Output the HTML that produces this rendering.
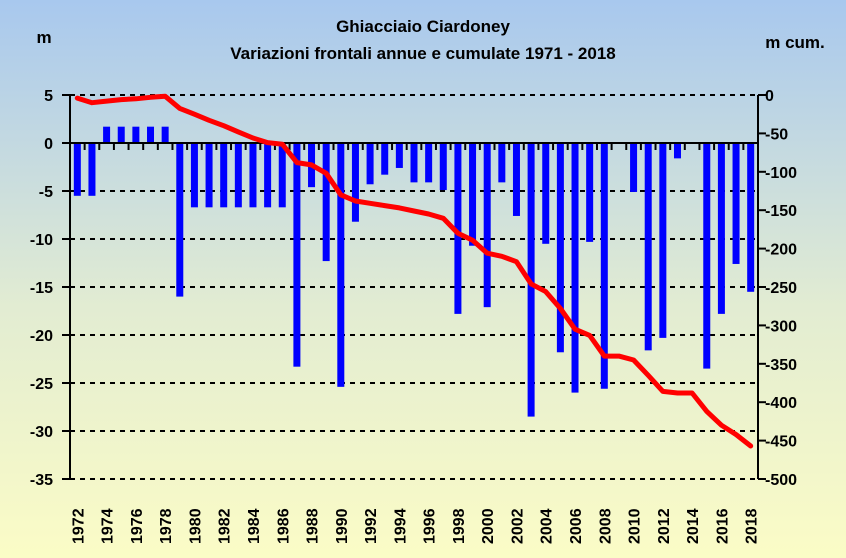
<!DOCTYPE html>
<html><head><meta charset="utf-8"><style>
body{margin:0;width:846px;height:558px;overflow:hidden}
svg{display:block;font-family:"Liberation Sans",sans-serif;font-weight:bold}
</style></head><body>
<svg id="chart" width="846" height="558" viewBox="0 0 846 558">
<defs><linearGradient id="bg" x1="0" y1="0" x2="0" y2="1">
<stop offset="0" stop-color="#a8c8ee"/><stop offset="0.55" stop-color="#e2ecd2"/><stop offset="1" stop-color="#fbfcc6"/></linearGradient></defs>
<rect width="846" height="558" fill="url(#bg)"/>
<text x="423" y="32" font-size="17" text-anchor="middle">Ghiacciaio Ciardoney</text>
<text x="423" y="59" font-size="17" text-anchor="middle">Variazioni frontali annue e cumulate 1971 - 2018</text>
<text x="44" y="43" font-size="17" text-anchor="middle">m</text>
<text x="795" y="48" font-size="17" text-anchor="middle">m cum.</text>
<g id="grid"></g><g id="bars"></g><g id="axes"></g><g id="line"></g>
</svg>
<script>
const years=[];for(let y=1972;y<=2018;y++)years.push(y);
const annual=[-5.5,-5.5,1.7,1.7,1.7,1.7,1.7,-16,-6.7,-6.7,-6.7,-6.7,-6.7,-6.7,-6.7,-23.3,-4.6,-12.3,-25.4,-8.2,-4.3,-3.3,-2.6,-4.1,-4.1,-4.9,-17.8,-10.7,-17.1,-4.1,-7.6,-28.5,-10.5,-21.8,-26,-10.3,-25.6,0,-5.1,-21.6,-20.3,-1.6,0,-23.5,-17.8,-12.6,-15.5];
const cumulative=[-4,-10,-8,-6,-5,-3,-1.5,-17.4,-25,-33,-40,-48,-56,-62,-64,-88,-91,-102,-130,-138,-141,-144,-147,-151,-155,-160.5,-180,-189,-206,-210,-217,-246,-256,-278,-305,-313,-340,-340,-345,-365,-386,-388,-388,-412,-430,-442,-457];
const leftTicks=[5,0,-5,-10,-15,-20,-25,-30,-35];
const rightTicks=[0,-50,-100,-150,-200,-250,-300,-350,-400,-450,-500];
const NS="http://www.w3.org/2000/svg";
const X0=70,X1=758,YT=95,YB=479;
const slot=(X1-X0)/years.length;
const xC=i=>X0+(i+0.5)*slot;
const yL=v=>YT+(5-v)/40*(YB-YT);
const yR=v=>YT+(0-v)/500*(YB-YT);
function mk(tag,parent,attrs){const e=document.createElementNS(NS,tag);for(const k in attrs)e.setAttribute(k,attrs[k]);document.getElementById(parent).appendChild(e);return e;}
leftTicks.forEach(v=>{
 const y=yL(v);
 if(v!==0){const g=mk('line','grid',{x1:X0,x2:X1,y1:y,y2:y,stroke:'#000','stroke-width':2,'stroke-dasharray':'5,5'});
 
 }
 const t=mk('line','axes',{x1:X0-8,x2:X0,y1:y,y2:y,stroke:'#000','stroke-width':2});
 
 
 const l=mk('text','axes',{x:53,y:y+6,'font-size':16,'text-anchor':'end'});l.textContent=v;
 
 
});
rightTicks.forEach(v=>{
 const y=yR(v);
 const t=mk('line','axes',{x1:X1,x2:X1+8,y1:y,y2:y,stroke:'#000','stroke-width':2});
 
 
 const l=mk('text','axes',{x:765,y:y+6,'font-size':16});l.textContent=v;
 
 
});
annual.forEach((v,i)=>{
 if(v===0)return;
 const y0=yL(0),y1=yL(v);
 const b=mk('rect','bars',{x:xC(i)-3.5,y:Math.min(y0,y1),width:7,height:Math.abs(y1-y0),fill:'#0000ff'});
 
 
});
for(let i=0;i<=years.length;i++){
 const x=X0+i*slot;
 const t=mk('line','axes',{x1:x,x2:x,y1:yL(0),y2:yL(0)+7,stroke:'#000','stroke-width':2});
 
 
}
years.forEach((yr,i)=>{
 if(yr%2)return;
 const x=xC(i)+6,y=544;
 const l=mk('text','axes',{x:x,y:y,'font-size':16,transform:'rotate(-90 '+x+' '+y+')'});l.textContent=yr;
 
 
});
const zl=mk('line','axes',{x1:X0,x2:X1,y1:yL(0),y2:yL(0),stroke:'#000','stroke-width':2});


const la=mk('line','axes',{x1:X0,x2:X0,y1:YT,y2:YB,stroke:'#000','stroke-width':2});


const ra=mk('line','axes',{x1:X1,x2:X1,y1:YT,y2:YB,stroke:'#000','stroke-width':2});


const pts=cumulative.map((v,i)=>xC(i).toFixed(1)+','+yR(v).toFixed(1)).join(' ');
const pl=mk('polyline','line',{points:pts,fill:'none',stroke:'#ff0000','stroke-width':5,'stroke-linejoin':'round','stroke-linecap':'round'});


</script>
</body></html>
